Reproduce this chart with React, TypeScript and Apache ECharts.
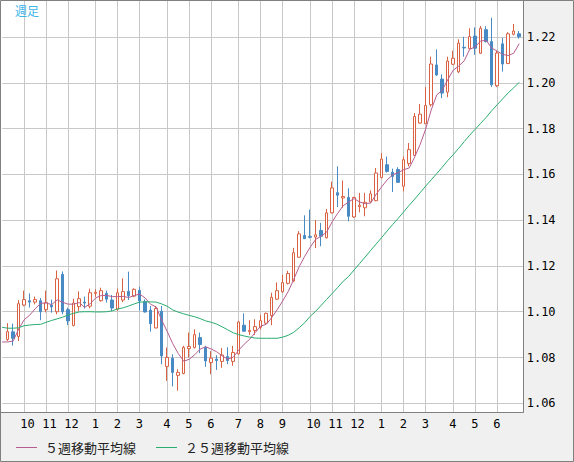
import React, { useEffect, useRef } from 'react';
import * as echarts from 'echarts';

// ---- data (weekly candles, index 0..93) ----
const opens = [
  1.0879, 1.0912, 1.0892, 1.1029, 1.1048, 1.1042, 1.1048, 1.1009, 1.1028, 1.1000,
  1.1163, 1.1009, 1.0940, 1.1022, 1.1042, 1.1024, 1.1080, 1.1048, 1.1080, 1.1051,
  1.1011, 1.1051, 1.1089, 1.1068, 1.1093, 1.1044, 1.1007, 1.0929, 1.1002, 1.0761,
  1.0797, 1.0722, 1.0730, 1.0839, 1.0844, 1.0887, 1.0844, 1.0778, 1.0793, 1.0783,
  1.0804, 1.0783, 1.0816, 1.0941, 1.0913, 1.0918, 1.0932, 1.0950, 1.0983, 1.1055,
  1.1087, 1.1124, 1.1134, 1.1238, 1.1333, 1.1329, 1.1326, 1.1355, 1.1323, 1.1432,
  1.1520, 1.1497, 1.1499, 1.1414, 1.1459, 1.1454, 1.1480, 1.1485, 1.1586, 1.1642,
  1.1609, 1.1621, 1.1548, 1.1647, 1.1683, 1.1824, 1.1821, 1.1904, 1.2078, 1.2016,
  1.1959, 1.2081, 1.2048, 1.2155, 1.2149, 1.2204, 1.2129, 1.2232, 1.2180, 1.1987,
  1.2170, 1.2084, 1.2212, 1.2214,
];
const closes = [
  1.0913, 1.0884, 1.1035, 1.1053, 1.1042, 1.1053, 1.1000, 1.1040, 1.1021, 1.1144,
  1.1000, 1.0960, 1.1038, 1.1057, 1.1038, 1.1083, 1.1085, 1.1092, 1.1055, 1.1016,
  1.1083, 1.1088, 1.1070, 1.1098, 1.1047, 1.0999, 1.0948, 1.1014, 1.0807, 1.0800,
  1.0735, 1.0735, 1.0844, 1.0848, 1.0900, 1.0857, 1.0785, 1.0797, 1.0787, 1.0811,
  1.0787, 1.0822, 1.0955, 1.0915, 1.0919, 1.0935, 1.0961, 1.0993, 1.1063, 1.1092,
  1.1127, 1.1167, 1.1258, 1.1340, 1.1319, 1.1325, 1.1336, 1.1330, 1.1432, 1.1541,
  1.1509, 1.1503, 1.1417, 1.1499, 1.1465, 1.1478, 1.1515, 1.1606, 1.1667, 1.1613,
  1.1591, 1.1565, 1.1664, 1.1708, 1.1853, 1.1863, 1.1901, 1.2082, 1.2034, 1.1955,
  1.2095, 1.2107, 1.2173, 1.2152, 1.2202, 1.2151, 1.2238, 1.2180, 1.1991, 1.2130,
  1.2082, 1.2214, 1.2226, 1.2201,
];
const lows = [
  1.0872, 1.0852, 1.0872, 1.1024, 1.1018, 1.1032, 1.0963, 1.0997, 1.0996, 1.0989,
  1.0989, 1.0942, 1.0936, 1.1003, 1.1014, 1.1015, 1.1065, 1.1044, 1.1040, 1.1003,
  1.1003, 1.1042, 1.1051, 1.1064, 1.1006, 1.0996, 1.0913, 1.0928, 1.0771, 1.0698,
  1.0674, 1.0655, 1.0727, 1.0800, 1.0839, 1.0819, 1.0759, 1.0727, 1.0746, 1.0755,
  1.0771, 1.0764, 1.0814, 1.0912, 1.0899, 1.0899, 1.0923, 1.0945, 1.0941, 1.1051,
  1.1082, 1.1119, 1.1129, 1.1236, 1.1318, 1.1320, 1.1278, 1.1286, 1.1320, 1.1429,
  1.1457, 1.1454, 1.1395, 1.1410, 1.1434, 1.1417, 1.1475, 1.1483, 1.1583, 1.1608,
  1.1523, 1.1563, 1.1526, 1.1635, 1.1680, 1.1821, 1.1820, 1.1896, 1.2030, 1.1933,
  1.1937, 1.2078, 1.2042, 1.2114, 1.2146, 1.2122, 1.2126, 1.2176, 1.1982, 1.1981,
  1.2049, 1.2082, 1.2207, 1.2193,
];
const highs = [
  1.0950, 1.0948, 1.1051, 1.1092, 1.1080, 1.1066, 1.1060, 1.1092, 1.1053, 1.1180,
  1.1176, 1.1018, 1.1057, 1.1089, 1.1066, 1.1101, 1.1098, 1.1105, 1.1092, 1.1073,
  1.1101, 1.1146, 1.1175, 1.1102, 1.1109, 1.1054, 1.1025, 1.1025, 1.1025, 1.0844,
  1.0814, 1.0749, 1.0851, 1.0909, 1.0923, 1.0909, 1.0851, 1.0828, 1.0810, 1.0841,
  1.0845, 1.0851, 1.0960, 1.0993, 1.0963, 1.0967, 1.0986, 1.0996, 1.1083, 1.1128,
  1.1161, 1.1179, 1.1279, 1.1352, 1.1421, 1.1446, 1.1400, 1.1388, 1.1449, 1.1568,
  1.1635, 1.1573, 1.1539, 1.1502, 1.1519, 1.1519, 1.1530, 1.1628, 1.1693, 1.1678,
  1.1625, 1.1631, 1.1678, 1.1737, 1.1868, 1.1907, 1.1981, 1.2114, 1.2146, 1.2037,
  1.2114, 1.2140, 1.2190, 1.2201, 1.2238, 1.2242, 1.2248, 1.2247, 1.2284, 1.2139,
  1.2196, 1.2221, 1.2257, 1.2226,
];
// moving averages, index -1..93 (first value is the week before the first candle)
const ma5 = [
  1.0868,
  1.0868, 1.0872, 1.0925, 1.0965, 1.0985, 1.1013, 1.1037, 1.1038, 1.1031, 1.1052,
  1.1041, 1.1033, 1.1033, 1.1040, 1.1019, 1.1035, 1.1060, 1.1071, 1.1071, 1.1066,
  1.1066, 1.1067, 1.1062, 1.1071, 1.1077, 1.1060, 1.1032, 1.1021, 1.0963, 1.0914,
  1.0861, 1.0818, 1.0784, 1.0792, 1.0812, 1.0837, 1.0847, 1.0837, 1.0825, 1.0807,
  1.0793, 1.0801, 1.0832, 1.0858, 1.0880, 1.0909, 1.0937, 1.0945, 1.0974, 1.1009,
  1.1047, 1.1088, 1.1141, 1.1197, 1.1242, 1.1282, 1.1316, 1.1330, 1.1348, 1.1393,
  1.1430, 1.1463, 1.1480, 1.1494, 1.1479, 1.1472, 1.1475, 1.1513, 1.1546, 1.1576,
  1.1598, 1.1608, 1.1620, 1.1628, 1.1676, 1.1731, 1.1798, 1.1881, 1.1947, 1.1967,
  1.2013, 1.2055, 1.2073, 1.2096, 1.2146, 1.2157, 1.2183, 1.2185, 1.2152, 1.2138,
  1.2124, 1.2119, 1.2129, 1.2171,
];
const ma25 = [
  1.0932,
  1.0928, 1.0928, 1.0930, 1.0939, 1.0942, 1.0944, 1.0945, 1.0954, 1.0962, 1.0969,
  1.0976, 1.0986, 1.0993, 1.0999, 1.1000, 1.1000, 1.0999, 1.0999, 1.1000, 1.1004,
  1.1012, 1.1017, 1.1025, 1.1034, 1.1042, 1.1043, 1.1043, 1.1042, 1.1034, 1.1024,
  1.1008, 1.0998, 1.0991, 1.0984, 1.0978, 1.0970, 1.0960, 1.0954, 1.0946, 1.0934,
  1.0921, 1.0908, 1.0900, 1.0894, 1.0889, 1.0885, 1.0884, 1.0884, 1.0884, 1.0884,
  1.0889, 1.0897, 1.0910, 1.0930, 1.0952, 1.0980, 1.1002, 1.1028, 1.1054, 1.1080,
  1.1106, 1.1133, 1.1154, 1.1183, 1.1211, 1.1239, 1.1268, 1.1296, 1.1324, 1.1353,
  1.1381, 1.1408, 1.1436, 1.1465, 1.1492, 1.1520, 1.1549, 1.1576, 1.1603, 1.1631,
  1.1660, 1.1686, 1.1714, 1.1743, 1.1771, 1.1797, 1.1823, 1.1849, 1.1878, 1.1904,
  1.1930, 1.1956, 1.1978, 1.2002,
];
// month-start weeks (candle index) and their tick labels
const monthStartWeeks = [3, 7, 11, 16, 20, 24, 29, 33, 37, 42, 46, 50, 55, 59, 63, 68, 72, 76, 81, 85, 89];
const monthLabels = ['10', '11', '12', '1', '2', '3', '4', '5', '6', '7', '8', '9', '10', '11', '12', '1', '2', '3', '4', '5', '6'];
const seriesNames = ['５週移動平均線', '２５週移動平均線'];
const chartTitle = '週足';

// categories: week -1 .. 94 (slot before first candle and after last)
const weeks = Array.from({ length: 96 }, (_, j) => 'W' + (j - 1));

const RED = '#da6242';
const BLUE = '#488ac4';
const PURPLE = '#b55d8f';
const GREEN = '#2aad6f';
const GRIDC = '#c8c8c8';
const MONO = '"DejaVu Sans Mono", monospace';
const JP = '"Noto Sans CJK JP", sans-serif';

const Y_MIN = 1.0562;
const Y_MAX = 1.23594;

export default function App() {
  const ref = useRef<HTMLDivElement>(null);
  useEffect(() => {
    document.body.style.margin = '0';
    if (!ref.current) return;
    const chart = echarts.init(ref.current, null, { renderer: 'svg' });
    const labelByCat: Record<number, string> = {};
    monthStartWeeks.forEach((w, k) => { labelByCat[w + 1] = monthLabels[k]; });
    const isMonth = (idx: number) => labelByCat[idx] !== undefined;

    const candleData: any[] = [['-', '-', '-', '-']];
    opens.forEach((o, i) => candleData.push([o, closes[i], lows[i], highs[i]]));

    const option: any = {
      animation: false,
      backgroundColor: '#f0f0f0',
      title: {
        text: chartTitle, left: 15, top: 4, padding: 0,
        textStyle: { fontSize: 12, fontWeight: 'normal', color: '#3db5e6', fontFamily: JP },
      },
      legend: {
        left: 16, top: 441, padding: 0, itemWidth: 21, itemHeight: 1, itemGap: 20,
        icon: 'rect', data: seriesNames,
        textStyle: { fontFamily: JP, fontSize: 13, color: '#222', padding: [0, 0, 0, 3] },
      },
      graphic: [
        { type: 'rect', silent: true, z: -10, shape: { x: 1, y: 1, width: 522, height: 411 }, style: { fill: '#ffffff' } },
        { type: 'rect', silent: true, z: 50, shape: { x: 524, y: 0, width: 2.5, height: 413 }, style: { fill: '#f0f0f0' } },
        { type: 'polyline', silent: true, z: 100, shape: { points: [[523.5, 0], [523.5, 412.5], [0, 412.5]] }, style: { stroke: '#808080', fill: 'transparent', lineWidth: 1 } },
        { type: 'rect', silent: true, z: 100, shape: { x: 0.5, y: 0.5, width: 573, height: 461 }, style: { stroke: '#808080', fill: 'transparent', lineWidth: 1 } },
      ],
      grid: [
        { left: 2.2, top: 0.5, width: 522.5, height: 411.5, containLabel: false, outerBoundsMode: 'none', show: false },
        { left: -1.8, top: 0.5, width: 522.5, height: 411.5, containLabel: false, outerBoundsMode: 'none', show: false },
      ],
      xAxis: [
        {
          type: 'category', gridIndex: 0, data: weeks, boundaryGap: false,
          axisLine: { show: false }, axisTick: { show: false }, axisLabel: { show: false },
          splitLine: { show: true, interval: (idx: number) => isMonth(idx), lineStyle: { color: GRIDC, width: 1 } },
        },
        {
          type: 'category', gridIndex: 1, data: weeks, boundaryGap: false,
          axisLine: { show: false }, axisTick: { show: false }, splitLine: { show: false },
          axisLabel: {
            show: true, interval: (idx: number) => isMonth(idx),
            formatter: (_v: string, idx: number) => labelByCat[idx] ?? '',
            align: 'left', margin: 6, fontFamily: MONO, fontSize: 12, color: '#000',
          },
        },
      ],
      yAxis: [
        {
          type: 'value', gridIndex: 0, position: 'right', min: Y_MIN, max: Y_MAX, splitNumber: 9,
          axisLine: { show: false }, axisTick: { show: false },
          splitLine: { show: true, lineStyle: { color: GRIDC, width: 1 } },
          axisLabel: {
            show: true, showMinLabel: false, showMaxLabel: false, margin: 2, align: 'left',
            formatter: (v: number) => v.toFixed(2), fontFamily: MONO, fontSize: 12, color: '#000',
          },
        },
        { type: 'value', gridIndex: 1, show: false },
      ],
      series: [
        {
          type: 'candlestick', name: 'candle', xAxisIndex: 0, yAxisIndex: 0, data: candleData,
          barWidth: 3, silent: true,
          itemStyle: { color: '#ffffff', color0: BLUE, borderColor: RED, borderColor0: BLUE, borderWidth: 1 },
        },
        {
          type: 'line', name: seriesNames[0], data: ma5, symbol: 'none', silent: true, color: PURPLE,
          lineStyle: { width: 1, color: PURPLE }, itemStyle: { color: PURPLE },
        },
        {
          type: 'line', name: seriesNames[1], data: ma25, symbol: 'none', silent: true, color: GREEN,
          lineStyle: { width: 1, color: GREEN }, itemStyle: { color: GREEN },
        },
      ],
    };
    chart.setOption(option);
    return () => chart.dispose();
  }, []);
  return <div ref={ref} style={{ position: 'fixed', left: 0, top: 0, width: 574, height: 462 }} />;
}
